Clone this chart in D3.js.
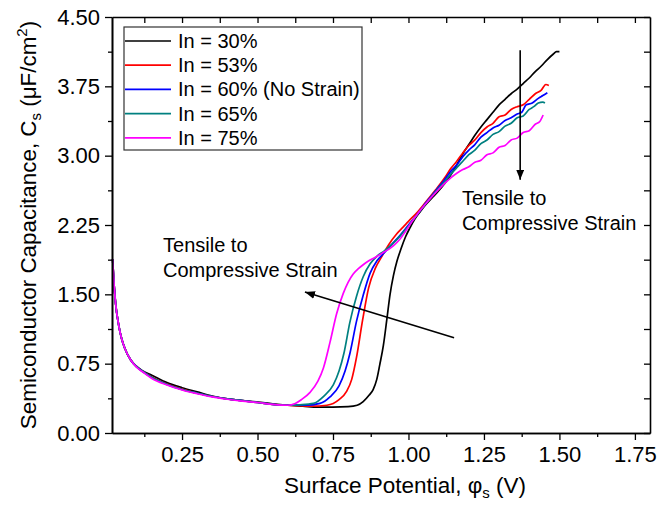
<!DOCTYPE html>
<html>
<head>
<meta charset="utf-8">
<script src="https://cdn.jsdelivr.net/npm/d3@7/dist/d3.min.js"></script>
<style>
  html, body { margin: 0; padding: 0; background: #fff; }
  svg { display: block; font-family: "Liberation Sans", Arial, Helvetica, sans-serif; }
</style>
</head>
<body>
<svg id="chart" width="659" height="508"></svg>
<script>
// Semiconductor capacitance vs. surface potential for several In fractions

const seriesNames = ["In = 30%", "In = 53%", "In = 60% (No Strain)", "In = 65%", "In = 75%"];
const seriesColors = ["#000000", "#ff0000", "#0000ff", "#008080", "#ff00ff"];

// [surface potential (V), Cs (uF/cm^2)]
const in30 = [[0.02,1.88],[0.025,1.60],[0.03,1.40],[0.04,1.17],[0.05,1.02],[0.06,0.92],[0.08,0.79],[0.10,0.72],[0.12,0.67],[0.15,0.625],[0.20,0.545],[0.25,0.49],[0.30,0.445],[0.35,0.40],[0.40,0.37],[0.45,0.35],[0.50,0.335],[0.55,0.315],[0.60,0.30],[0.65,0.29],[0.70,0.28],[0.75,0.28],[0.80,0.285],[0.83,0.30],[0.85,0.34],[0.87,0.41],[0.883,0.47],[0.895,0.58],[0.905,0.74],[0.917,0.95],[0.928,1.22],[0.939,1.50],[0.95,1.70],[0.962,1.86],[0.975,1.99],[0.99,2.12],[1.005,2.22],[1.02,2.31],[1.04,2.40],[1.06,2.48],[1.08,2.55],[1.10,2.62],[1.12,2.70],[1.14,2.79],[1.16,2.90],[1.18,3.02],[1.20,3.12],[1.22,3.22],[1.24,3.31],[1.26,3.39],[1.28,3.47],[1.30,3.55],[1.32,3.61],[1.34,3.67],[1.36,3.72],[1.38,3.78],[1.40,3.84],[1.42,3.91],[1.44,3.97],[1.46,4.04],[1.48,4.10],[1.49,4.125],[1.50,4.125]];
const in53 = [[0.02,1.88],[0.025,1.60],[0.03,1.40],[0.04,1.17],[0.05,1.02],[0.06,0.92],[0.08,0.79],[0.10,0.715],[0.12,0.665],[0.15,0.605],[0.20,0.53],[0.25,0.475],[0.30,0.43],[0.35,0.395],[0.40,0.37],[0.45,0.35],[0.50,0.33],[0.55,0.31],[0.60,0.30],[0.68,0.29],[0.73,0.30],[0.77,0.36],[0.795,0.45],[0.812,0.58],[0.828,0.82],[0.848,1.22],[0.868,1.57],[0.89,1.78],[0.91,1.90],[0.935,2.04],[0.96,2.15],[0.983,2.23],[1.00,2.29],[1.03,2.39],[1.06,2.51],[1.09,2.63],[1.12,2.76],[1.14,2.86],[1.16,2.94],[1.18,3.03],[1.20,3.11],[1.22,3.17],[1.24,3.25],[1.26,3.31],[1.28,3.35],[1.30,3.42],[1.32,3.44],[1.34,3.50],[1.36,3.53],[1.38,3.55],[1.40,3.61],[1.42,3.67],[1.44,3.71],[1.455,3.77],[1.465,3.76]];
const in60 = [[0.02,1.88],[0.025,1.60],[0.03,1.40],[0.04,1.17],[0.05,1.02],[0.06,0.92],[0.08,0.79],[0.10,0.715],[0.12,0.665],[0.15,0.60],[0.20,0.525],[0.25,0.47],[0.30,0.43],[0.35,0.395],[0.40,0.37],[0.45,0.35],[0.50,0.33],[0.55,0.31],[0.60,0.30],[0.66,0.30],[0.707,0.32],[0.74,0.39],[0.77,0.51],[0.79,0.67],[0.806,0.86],[0.828,1.21],[0.85,1.49],[0.873,1.73],[0.895,1.86],[0.92,1.95],[0.945,2.04],[0.97,2.13],[1.00,2.25],[1.03,2.37],[1.06,2.50],[1.09,2.62],[1.12,2.74],[1.14,2.83],[1.16,2.90],[1.18,2.99],[1.20,3.06],[1.22,3.12],[1.24,3.20],[1.26,3.25],[1.28,3.30],[1.30,3.33],[1.32,3.38],[1.34,3.41],[1.36,3.45],[1.375,3.47],[1.39,3.55],[1.41,3.57],[1.43,3.62],[1.445,3.65],[1.46,3.68]];
const in65 = [[0.02,1.88],[0.025,1.60],[0.03,1.40],[0.04,1.17],[0.05,1.02],[0.06,0.92],[0.08,0.79],[0.10,0.715],[0.12,0.665],[0.15,0.60],[0.20,0.525],[0.25,0.47],[0.30,0.43],[0.35,0.395],[0.40,0.37],[0.45,0.35],[0.50,0.33],[0.55,0.31],[0.60,0.30],[0.64,0.305],[0.685,0.32],[0.72,0.40],[0.751,0.52],[0.77,0.67],[0.786,0.86],[0.806,1.20],[0.828,1.48],[0.85,1.69],[0.873,1.83],[0.895,1.91],[0.92,1.97],[0.945,2.04],[0.972,2.13],[0.99,2.20],[1.01,2.28],[1.03,2.37],[1.06,2.49],[1.09,2.61],[1.12,2.72],[1.14,2.80],[1.16,2.87],[1.18,2.94],[1.20,3.01],[1.22,3.06],[1.24,3.13],[1.26,3.17],[1.28,3.23],[1.30,3.26],[1.32,3.32],[1.34,3.35],[1.36,3.41],[1.38,3.43],[1.40,3.50],[1.415,3.53],[1.43,3.57],[1.445,3.58],[1.452,3.57]];
const in75 = [[0.02,1.88],[0.025,1.60],[0.03,1.40],[0.04,1.17],[0.05,1.02],[0.06,0.92],[0.08,0.79],[0.10,0.71],[0.12,0.66],[0.15,0.59],[0.20,0.52],[0.25,0.465],[0.30,0.425],[0.35,0.39],[0.40,0.365],[0.45,0.345],[0.50,0.33],[0.55,0.31],[0.60,0.30],[0.625,0.32],[0.645,0.36],[0.674,0.44],[0.70,0.56],[0.718,0.70],[0.74,0.98],[0.762,1.29],[0.784,1.51],[0.80,1.63],[0.817,1.72],[0.835,1.78],[0.85,1.82],[0.87,1.865],[0.895,1.91],[0.92,1.96],[0.94,2.00],[0.955,2.04],[0.97,2.09],[0.99,2.18],[1.01,2.28],[1.03,2.37],[1.06,2.49],[1.09,2.60],[1.12,2.70],[1.14,2.76],[1.16,2.81],[1.18,2.85],[1.20,2.88],[1.22,2.93],[1.24,2.95],[1.26,3.01],[1.28,3.03],[1.30,3.09],[1.32,3.11],[1.34,3.17],[1.36,3.19],[1.38,3.25],[1.40,3.27],[1.42,3.34],[1.435,3.37],[1.446,3.44]];
const seriesData = [in30, in53, in60, in65, in75];

const xMajorTicks = [0.25, 0.50, 0.75, 1.00, 1.25, 1.50, 1.75];
const xMinorTicks = [0.125, 0.375, 0.625, 0.875, 1.125, 1.375, 1.625];
const yMajorTicks = [0.00, 0.75, 1.50, 2.25, 3.00, 3.75, 4.50];
const yMinorTicks = [0.375, 1.125, 1.875, 2.625, 3.375, 4.125];

// annotation arrows: [x0, y0, x1, y1] in data units, arrowhead at (x1, y1)
const arrowDown = [1.37, 4.14, 1.37, 2.74];
const arrowLeft = [1.151, 1.03, 0.657, 1.525];
const noteRight = { x: 1.177, y: 2.47, lines: ["Tensile to", "Compressive Strain"] };
const noteLeft = { x: 0.187, y: 1.96, lines: ["Tensile to", "Compressive Strain"] };

const W = 659, H = 508;
const margin = { top: 17, right: 9, bottom: 75, left: 112 };
const iw = W - margin.left - margin.right;
const ih = H - margin.top - margin.bottom;

const svg = d3.select("#chart");
const g = svg.append("g").attr("transform", `translate(${margin.left},${margin.top})`);

const x = d3.scaleLinear().domain([0.018, 1.8]).range([0, iw]);
const y = d3.scaleLinear().domain([0, 4.5]).range([ih, 0]);

const fmt = d3.format(".2f");

// curves
const line = d3.line().x(d => x(d[0])).y(d => y(d[1])).curve(d3.curveMonotoneX);
g.append("g")
  .selectAll("path").data(seriesData).join("path")
  .attr("d", line)
  .attr("fill", "none")
  .attr("stroke", (d, i) => seriesColors[i])
  .attr("stroke-width", 1.7)
  .attr("stroke-linejoin", "round");

// axes: bottom/left ticks outward, top/right ticks inward
function styleAxis(sel) {
  sel.select(".domain").attr("stroke", "#000").attr("stroke-width", 1.6);
  sel.selectAll(".tick line").attr("stroke", "#000").attr("stroke-width", 1.3);
  sel.selectAll(".tick text").attr("fill", "#000").style("font-size", "22px");
}

g.append("g").attr("transform", `translate(0,${ih})`)
  .call(d3.axisBottom(x).tickValues(xMajorTicks).tickFormat(fmt).tickSize(7).tickPadding(6).tickSizeOuter(0))
  .call(styleAxis);
g.append("g").attr("transform", `translate(0,${ih})`)
  .call(d3.axisBottom(x).tickValues(xMinorTicks).tickFormat("").tickSize(4).tickSizeOuter(0))
  .call(styleAxis);

g.append("g")
  .call(d3.axisLeft(y).tickValues(yMajorTicks).tickFormat(fmt).tickSize(7).tickPadding(5).tickSizeOuter(0))
  .call(styleAxis);
g.append("g")
  .call(d3.axisLeft(y).tickValues(yMinorTicks).tickFormat("").tickSize(4).tickSizeOuter(0))
  .call(styleAxis);

g.append("g")
  .call(d3.axisTop(x).tickValues(xMajorTicks.concat(xMinorTicks)).tickFormat("").tickSize(-6).tickSizeOuter(0))
  .call(styleAxis);
g.append("g").attr("transform", `translate(${iw},0)`)
  .call(d3.axisRight(y).tickValues(yMajorTicks.concat(yMinorTicks)).tickFormat("").tickSize(-6).tickSizeOuter(0))
  .call(styleAxis);

// axis titles
const xt = svg.append("text")
  .attr("x", 405).attr("y", 493)
  .attr("text-anchor", "middle")
  .style("font-size", "22.5px");
xt.append("tspan").text("Surface Potential, ");
xt.append("tspan").text("φ");
xt.append("tspan").attr("dy", 5).style("font-size", "15px").text("s");
xt.append("tspan").attr("dy", -5).text(" (V)");

const yt = svg.append("text")
  .attr("transform", `translate(36,${margin.top + ih / 2}) rotate(-90)`)
  .attr("text-anchor", "middle")
  .style("font-size", "22.4px");
yt.append("tspan").text("Semiconductor Capacitance, C");
yt.append("tspan").attr("dy", 5).style("font-size", "15px").text("s");
yt.append("tspan").attr("dy", -5).text(" (μF/cm");
yt.append("tspan").attr("dy", -9).style("font-size", "15px").text("2");
yt.append("tspan").attr("dy", 9).text(")");

// legend
const legend = svg.append("g").attr("transform", "translate(124,27)");
legend.append("rect")
  .attr("width", 238).attr("height", 123)
  .attr("fill", "#fff").attr("stroke", "#333").attr("stroke-width", 1.2);
const rows = legend.selectAll("g.row").data(seriesNames).join("g")
  .attr("class", "row")
  .attr("transform", (d, i) => `translate(0,${14 + i * 24.2})`);
rows.append("line")
  .attr("x1", 1).attr("x2", 47)
  .attr("stroke", (d, i) => seriesColors[i]).attr("stroke-width", 1.7);
rows.append("text")
  .attr("x", 54).attr("y", 7)
  .style("font-size", "20px")
  .text(d => d);

// arrows
const defs = svg.append("defs");
defs.append("marker")
  .attr("id", "head").attr("viewBox", "0 0 10 8")
  .attr("refX", 10).attr("refY", 4)
  .attr("markerWidth", 10).attr("markerHeight", 8)
  .attr("markerUnits", "userSpaceOnUse")
  .attr("orient", "auto")
  .append("path").attr("d", "M0,0 L10,4 L0,8 Z").attr("fill", "#000");

[arrowDown, arrowLeft].forEach(a => {
  g.append("line")
    .attr("x1", x(a[0])).attr("y1", y(a[1]))
    .attr("x2", x(a[2])).attr("y2", y(a[3]))
    .attr("stroke", "#000").attr("stroke-width", 1.6)
    .attr("marker-end", "url(#head)");
});

// annotation text
[noteRight, noteLeft].forEach(n => {
  const t = g.append("text")
    .attr("x", x(n.x)).attr("y", y(n.y))
    .style("font-size", "20px");
  n.lines.forEach((s, i) => {
    t.append("tspan").attr("x", x(n.x)).attr("dy", i === 0 ? 0 : 25.5).text(s);
  });
});
</script>
</body>
</html>
